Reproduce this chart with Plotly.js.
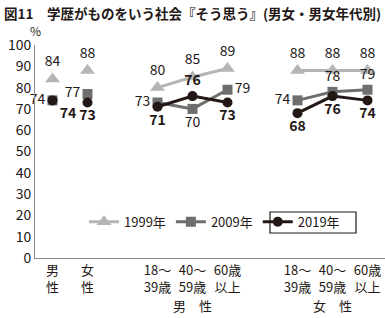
<!DOCTYPE html>
<html><head><meta charset="utf-8">
<script src="https://cdn.plot.ly/plotly-3.0.1.min.js"></script>
<style>html,body{margin:0;padding:0;background:#fff}#c{width:385px;height:318px}</style>
</head><body><div id="c"></div>
<script>
// ---- data ----
const categories = ["男<br>性","女<br>性","18～<br>39歳","40～<br>59歳","60歳<br>以上","18～<br>39歳","40～<br>59歳","60歳<br>以上"];
const groups = ["男　性","女　性"];
const seriesNames = ["1999年","2009年","2019年"];
const v1999 = [84, 88, 80, 85, 89, 88, 88, 88];
const v2009 = [74, 77, 73, 70, 79, 74, 78, 79];
const v2019 = [74, 73, 71, 76, 73, 68, 76, 74];
const yTicks = [0,10,20,30,40,50,60,70,80,90,100];

// ---- layout helpers ----
const pos = [0,1,3,4,5,7,8,9];           // slot of each category on the axis
const segments = [[0],[1],[2,3,4],[5,6,7]]; // indices connected by lines
const font = "Noto Sans CJK JP, Noto Sans, sans-serif";

function build(vals){
  const x=[], y=[], t=[], idx=[];
  segments.forEach((seg,si)=>{
    if(si>0){x.push(null);y.push(null);t.push("");idx.push(-1);}
    seg.forEach(i=>{x.push(pos[i]);y.push(vals[i]);t.push(String(vals[i]));idx.push(i);});
  });
  return {x,y,t,idx};
}
const tp1999 = ["top center","top center","top center","top center","top center","top center","top center","top center"];
const tp2009 = ["middle left","middle left","middle left","bottom center","middle right","middle left","top center","top center"];
const tp2019 = ["bottom right","bottom center","bottom center","top center","bottom center","bottom center","bottom center","bottom center"];

const styles = [
  {vals:v1999, color:"#b5b5b5", sym:"triangle-up", size:13, tp:tp1999, bold:false},
  {vals:v2009, color:"#6e6e6e", sym:"square", size:10, tp:tp2009, bold:false},
  {vals:v2019, color:"#231815", sym:"circle", size:10, tp:tp2019, bold:true}
];
const traces = styles.map((s,k)=>{
  const b = build(s.vals);
  return {
    type:"scatter", mode:"lines+markers+text", name:seriesNames[k],
    x:b.x, y:b.y, connectgaps:false,
    text:b.t.map(v=> v===""?"":(s.bold?"<b>"+v+"</b>":v)),
    textposition:b.idx.map(i=> i<0?"top center":s.tp[i]),
    textfont:{family:font,size:14,color:"#231815"},
    line:{color:s.color,width:3},
    marker:{color:s.color,symbol:s.sym,size:s.size},
    cliponaxis:false
  };
});

const layout = {
  width:385, height:318,
  margin:{l:35,r:0,t:45,b:60},
  paper_bgcolor:"#fff", plot_bgcolor:"#fff",
  font:{family:font,size:14,color:"#231815"},
  showlegend:true,
  legend:{orientation:"h", x:0.14, xanchor:"left", y:0.17, yanchor:"middle",
          font:{family:font,size:13,color:"#231815"}, bgcolor:"rgba(0,0,0,0)",
          itemwidth:30, traceorder:"normal"},
  xaxis:{range:[-0.5,9.5], tickmode:"array", tickvals:pos, ticktext:categories,
         showgrid:false, zeroline:false, showline:true, linecolor:"#8c8c8c", linewidth:1,
         ticks:"", tickfont:{family:font,size:13,color:"#231815"}, fixedrange:true},
  yaxis:{range:[0,100], tickmode:"array", tickvals:yTicks, showgrid:false, zeroline:false,
         showline:true, linecolor:"#8c8c8c", linewidth:1, ticks:"",
         tickfont:{family:font,size:14,color:"#231815"}, fixedrange:true},
  annotations:[
    {text:"<b>図11　学歴がものをいう社会『そう思う』(男女・男女年代別)</b>", xref:"paper", yref:"paper",
     x:-33/350, y:1+(45-13)/213, xanchor:"left", yanchor:"middle", showarrow:false,
     font:{family:font,size:13.5,color:"#231815"}},
    {text:"%", xref:"paper", yref:"paper", x:0, y:1+(45-31)/213, xanchor:"center", yanchor:"middle",
     showarrow:false, font:{family:font,size:12,color:"#231815"}},
    {text:groups[0], xref:"x", yref:"paper", x:4, y:-(305-258)/213, xanchor:"center", yanchor:"middle",
     showarrow:false, font:{family:font,size:13,color:"#231815"}},
    {text:groups[1], xref:"x", yref:"paper", x:8, y:-(305-258)/213, xanchor:"center", yanchor:"middle",
     showarrow:false, font:{family:font,size:13,color:"#231815"}}
  ],
  shapes:[
    {type:"rect", xref:"paper", yref:"paper", x0:(270-35)/350, x1:(356-35)/350,
     y0:(258-233)/213, y1:(258-212)/213, line:{color:"#231815",width:1.2}, fillcolor:"rgba(0,0,0,0)"}
  ]
};
Plotly.newPlot("c", traces, layout, {displayModeBar:false, staticPlot:true});
</script></body></html>
